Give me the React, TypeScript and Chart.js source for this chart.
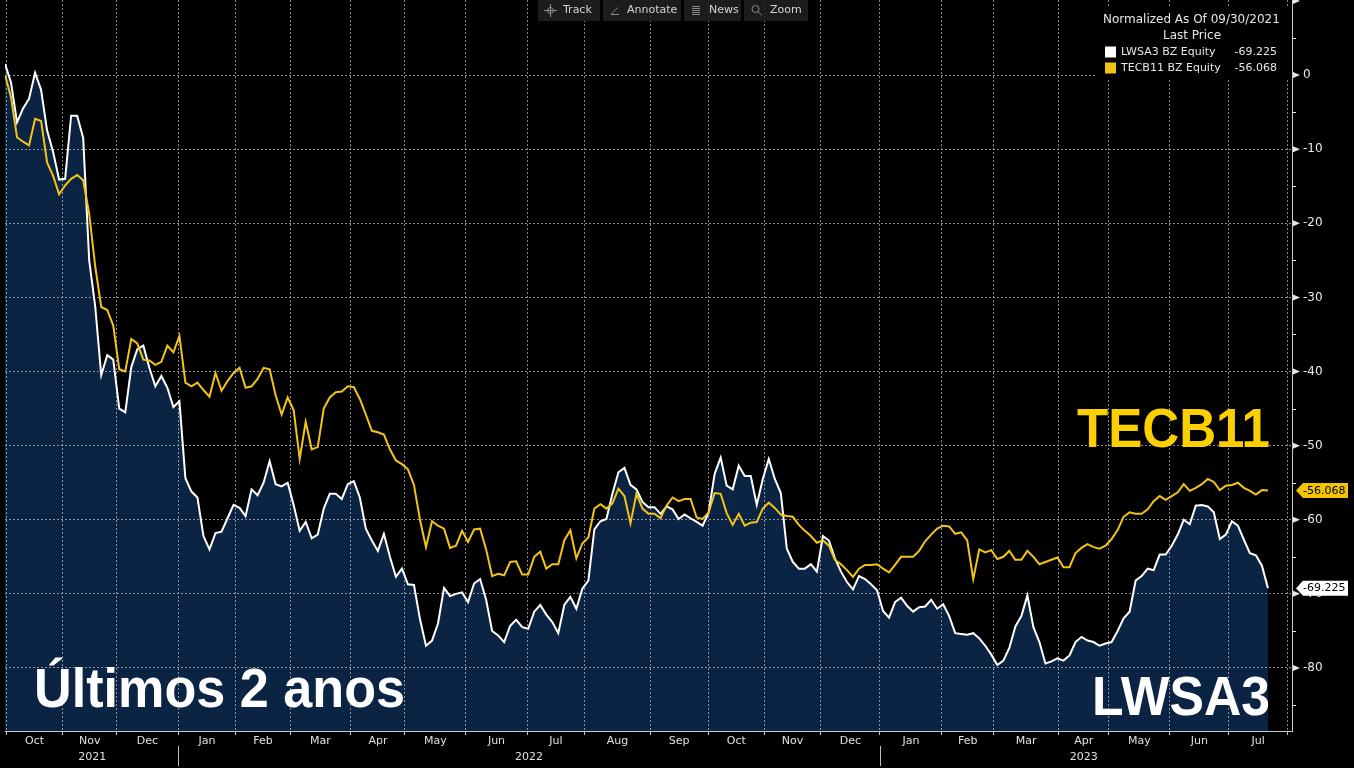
import React, { useEffect, useRef } from 'react';
import { Chart, registerables } from 'chart.js';

Chart.register(...registerables);

// One sample ≈ two B3 sessions, from 30 Sep 2021 to Jul 2023 (normalized, % change)
const lwsa3: number[] = [
  1.5, -1.0, -6.4, -4.5, -3.2, 0.3, -2.0, -7.5, -10.4, -14.1,
  -14, -5.5, -5.5, -8.5, -25, -31.2, -40.5, -37.8, -38.4, -45,
  -45.5, -39.4, -37, -36.5, -39.5, -42, -40.6, -42.2, -44.8, -44,
  -54.4, -56.2, -57, -62.2, -64, -61.8, -61.6, -59.8, -58, -58.4,
  -59.5, -55.9, -56.7, -55, -52.1, -55.2, -55.5, -55, -58, -61.5,
  -60.3, -62.5, -62, -58.5, -56.5, -56.5, -57.2, -55.2, -54.8, -57,
  -61.2, -62.8, -64.2, -61.9, -65, -67.7, -66.6, -68.7, -68.8, -73.4,
  -77, -76.3, -74, -69.2, -70.3, -70, -69.8, -71.1, -68.6, -68,
  -70.8, -75, -75.6, -76.5, -74.3, -73.5, -74.5, -74.7, -72.4, -71.5,
  -72.8, -73.8, -75.3, -71.5, -70.4, -72, -69.3, -68.2, -61.3, -60.2,
  -59.9, -56.5, -53.6, -53, -55.3, -55.9, -57.6, -58.3, -58.3, -59.2,
  -58.2, -58.6, -59.9, -59.3, -59.8, -60.3, -60.8, -59, -53.8, -51.6,
  -55.4, -55.9, -52.7, -54.1, -54.1, -58, -54.5, -51.8, -54.5, -56.4,
  -63.9, -65.7, -66.6, -66.6, -66, -67, -62.2, -62.8, -65.2, -67,
  -68.4, -69.4, -67.6, -68, -68.7, -69.5, -72.3, -73.2, -71.1, -70.5,
  -71.6, -72.4, -71.8, -71.7, -70.8, -72, -71.4, -73, -75.3, -75.4,
  -75.5, -75.3, -76, -77, -78.2, -79.6, -79, -77.3, -74.4, -73,
  -70.2, -74.5, -76.5, -79.4, -79.1, -78.7, -79, -78.3, -76.5, -75.8,
  -76.3, -76.5, -77, -76.7, -76.5, -75, -73.3, -72.4, -68.2, -67.6,
  -66.6, -66.8, -64.7, -64.7, -63.5, -62, -60, -60.6, -58.1, -58,
  -58.2, -59, -62.6, -62, -60.2, -60.8, -62.7, -64.5, -64.8, -66.2,
  -69.225,
];

const tecb11: number[] = [
  0, -3, -8.4, -9, -9.5, -5.9, -6.2, -11.8, -13.6, -16.1,
  -14.9, -14, -13.5, -14.2, -18.7, -25.8, -31.3, -31.7, -33.8, -39.7,
  -40, -35.6, -36.2, -38.4, -38.5, -39.1, -38.7, -36.5, -37.4, -35.2,
  -41.5, -42, -41.5, -42.5, -43.4, -40.2, -42.6, -41.3, -40.2, -39.5,
  -42.2, -42, -41, -39.5, -39.7, -43.2, -45.8, -43.5, -45.2, -51.8,
  -46.8, -50.5, -50.2, -45, -43.5, -42.8, -42.7, -42, -42.1, -43.7,
  -45.8, -48, -48.2, -48.5, -50.5, -52, -52.5, -53.2, -55.3, -60,
  -63.7, -60.2, -60.8, -61.2, -63.8, -63.5, -61.5, -63, -61.3, -61.2,
  -64, -67.6, -67.3, -67.5, -65.7, -65.6, -67.4, -67.4, -65, -64.3,
  -66.6, -66, -66, -62.8, -61.4, -65.2, -63.2, -62.4, -58.5, -57.9,
  -58.5, -57.8, -55.8, -56.8, -60.5, -56.5, -58.5, -59.2, -59.2, -59.8,
  -58.1, -57, -57.5, -57.2, -57.2, -59.7, -59.9, -59, -56.4, -56.5,
  -59.1, -60.7, -59.2, -60.8, -60.4, -60.3, -58.5, -57.7, -58.4, -59.3,
  -59.5, -59.6, -60.7, -61.5, -62.2, -63.1, -62.8, -63.5, -65.4, -66,
  -66.8, -67.7, -66.6, -66.1, -66.1, -66, -66.6, -67.1, -66.1, -65,
  -65, -65, -64.2, -62.9, -62, -61.2, -60.8, -60.9, -61.9, -61.7,
  -62.8, -68, -64, -64.4, -64.1, -65.3, -65, -64.2, -65.4, -65.4,
  -64.2, -65, -66, -65.7, -65.4, -65.1, -66.4, -66.4, -64.5, -63.8,
  -63.3, -63.7, -63.9, -63.5, -62.6, -61.4, -59.6, -59, -59.2, -59.2,
  -58.6, -57.5, -56.8, -57.3, -56.8, -56.3, -55.2, -56.1, -55.7, -55.2,
  -54.5, -54.9, -56, -55.4, -55.3, -55, -55.7, -56.1, -56.6, -56,
  -56.068,
];

// month boundaries in sample units (1st trading day of each month)
const monthStarts: number[] = [
  0.28, 9.56, 18.62, 28.77, 38.41, 47.39, 57.53, 66.51, 76.65, 86.8, 96.44, 107.25,
  116.9, 126.29, 135.62, 145.49, 155.8, 164.37, 175.2, 183.57, 193.7, 203.5, 213.27,
];
const monthLabels: string[] = [
  'Oct', 'Nov', 'Dec', 'Jan', 'Feb', 'Mar', 'Apr', 'May', 'Jun', 'Jul', 'Aug', 'Sep',
  'Oct', 'Nov', 'Dec', 'Jan', 'Feb', 'Mar', 'Apr', 'May', 'Jun', 'Jul',
];
const yearStarts: number[] = [0.28, 28.77, 145.49, 213.27];
const yearLabels: string[] = ['2021', '2022', '2023'];

const yTicks: number[] = [0, -10, -20, -30, -40, -50, -60, -70, -80];
const yMarkers: number[] = [10, 0, -10, -20, -30, -40, -50, -60, -70, -80];
const yMinorTicks: number[] = [5, -5, -15, -25, -35, -45, -55, -65, -75, -85];

const seriesNames: string[] = ['LWSA3 BZ Equity', 'TECB11 BZ Equity'];
const toolbarLabels: string[] = ['Track', 'Annotate', 'News', 'Zoom'];

const X_MAX = 214;
const Y_MIN = -88.5;
const Y_MAX = 10.12;

const FONT = '"DejaVu Sans", "Noto Sans", sans-serif';
const BIG = '"Liberation Sans", Arial, sans-serif';
const YELLOW = '#f2c417';
const YELLOW_TEXT = '#fcd000';
const NAVY = '#0b2444';
const GRID = 'rgba(185,185,185,0.75)';
const AXIS = '#c8c8c8';

function fitText(ctx: any, text: string, left: number, right: number, baseline: number, size: number, color: string) {
  ctx.save();
  ctx.font = `bold ${size}px ${BIG}`;
  const w = ctx.measureText(text).width;
  ctx.translate(left, baseline);
  ctx.scale((right - left) / w, 1);
  ctx.fillStyle = color;
  ctx.textAlign = 'left';
  ctx.textBaseline = 'alphabetic';
  ctx.fillText(text, 0, 0);
  ctx.restore();
}

const overlay = {
  id: 'overlay',
  afterDraw(chart: any) {
    const { ctx, chartArea: a } = chart;
    const xs = chart.scales.x;
    const ys = chart.scales.y;
    ctx.save();

    // y-axis markers
    ctx.fillStyle = '#e8e8e8';
    for (const v of yMarkers) {
      const py = ys.getPixelForValue(v);
      ctx.beginPath();
      ctx.moveTo(a.right + 1, py - 3);
      ctx.lineTo(a.right + 8, py);
      ctx.lineTo(a.right + 1, py + 3);
      ctx.closePath();
      ctx.fill();
    }
    ctx.strokeStyle = '#e8e8e8';
    ctx.lineWidth = 1;
    for (const v of yMinorTicks) {
      const py = Math.round(ys.getPixelForValue(v)) + 0.5;
      ctx.beginPath();
      ctx.moveTo(a.right, py);
      ctx.lineTo(a.right + 4, py);
      ctx.stroke();
    }

    // x-axis month / year labels
    ctx.fillStyle = '#e0e0e0';
    ctx.font = `11px ${FONT}`;
    ctx.textAlign = 'center';
    ctx.textBaseline = 'middle';
    monthLabels.forEach((m, i) => {
      const cx = (xs.getPixelForValue(monthStarts[i]) + xs.getPixelForValue(monthStarts[i + 1])) / 2;
      ctx.fillText(m, cx, a.bottom + 10);
    });
    yearLabels.forEach((y, i) => {
      const cx = (xs.getPixelForValue(yearStarts[i]) + xs.getPixelForValue(yearStarts[i + 1])) / 2;
      ctx.fillText(y, cx, a.bottom + 26);
    });
    ctx.strokeStyle = '#bdbdbd';
    for (let i = 1; i < yearStarts.length - 1; i++) {
      const px = Math.round(xs.getPixelForValue(yearStarts[i])) + 0.5;
      ctx.beginPath();
      ctx.moveTo(px, a.bottom + 15);
      ctx.lineTo(px, a.bottom + 35);
      ctx.stroke();
    }

    // last-value callouts
    const callouts = [
      { v: tecb11[tecb11.length - 1], bg: '#f5c400' },
      { v: lwsa3[lwsa3.length - 1], bg: '#ffffff' },
    ];
    ctx.font = `11px ${FONT}`;
    ctx.textAlign = 'left';
    for (const c of callouts) {
      const py = ys.getPixelForValue(c.v);
      const x0 = a.right + 4;
      ctx.fillStyle = c.bg;
      ctx.beginPath();
      ctx.moveTo(x0, py);
      ctx.lineTo(x0 + 7, py - 7.5);
      ctx.lineTo(x0 + 52, py - 7.5);
      ctx.lineTo(x0 + 52, py + 7.5);
      ctx.lineTo(x0 + 7, py + 7.5);
      ctx.closePath();
      ctx.fill();
      ctx.fillStyle = '#000';
      ctx.fillText(c.v.toFixed(3), x0 + 7, py + 0.5);
    }

    // big annotations
    fitText(ctx, 'TECB11', 1077, 1270, 447, 56, YELLOW_TEXT);
    fitText(ctx, 'LWSA3', 1092, 1270, 715, 56, '#ffffff');
    fitText(ctx, 'Últimos 2 anos', 34, 405, 707, 56, '#ffffff');

    // toolbar
    const cells = [[538, 600], [603, 681], [684, 741], [744, 808]];
    const textX = [563, 627, 709, 770];
    ctx.globalAlpha = 0.9;
    ctx.fillStyle = '#1f1f1f';
    for (const [c0, c1] of cells) ctx.fillRect(c0, 0, c1 - c0, 21);
    ctx.globalAlpha = 1;
    ctx.fillStyle = '#d4d4d4';
    ctx.font = `11px ${FONT}`;
    ctx.textBaseline = 'middle';
    toolbarLabels.forEach((t, i) => ctx.fillText(t, textX[i], 10.5));
    ctx.strokeStyle = '#8a8a8a';
    ctx.lineWidth = 1;
    ctx.beginPath();
    ctx.arc(550.5, 10.5, 3, 0, Math.PI * 2);
    ctx.moveTo(544, 10.5); ctx.lineTo(557, 10.5);
    ctx.moveTo(550.5, 4); ctx.lineTo(550.5, 17);
    ctx.stroke();
    ctx.beginPath();
    ctx.moveTo(611, 14.5); ctx.lineTo(618, 7.5);
    ctx.moveTo(611, 14.5); ctx.lineTo(619, 14.5);
    ctx.stroke();
    ctx.beginPath();
    for (const yy of [6.5, 8.5, 10.5, 12.5, 14.5]) { ctx.moveTo(692, yy); ctx.lineTo(700, yy); }
    ctx.stroke();
    ctx.beginPath();
    ctx.arc(755.5, 9, 3.5, 0, Math.PI * 2);
    ctx.moveTo(758, 11.5); ctx.lineTo(762, 15.5);
    ctx.stroke();

    // legend box
    ctx.fillStyle = '#000';
    ctx.fillRect(1097, 7, a.right - 1097, 72);
    ctx.fillStyle = '#e6e6e6';
    ctx.font = `12px ${FONT}`;
    ctx.textAlign = 'left';
    ctx.fillText('Normalized As Of 09/30/2021', 1103, 19.5);
    ctx.textAlign = 'center';
    ctx.fillText('Last Price', 1192, 35.5);
    const legendColors = ['#ffffff', YELLOW];
    const legendVals = [lwsa3[lwsa3.length - 1], tecb11[tecb11.length - 1]];
    ctx.font = `11px ${FONT}`;
    seriesNames.forEach((n, i) => {
      const cy = 52 + i * 16;
      ctx.fillStyle = legendColors[i];
      ctx.fillRect(1105, cy - 5.5, 11, 11);
      ctx.fillStyle = '#e6e6e6';
      ctx.textAlign = 'left';
      ctx.fillText(n, 1121, cy + 0.5);
      ctx.textAlign = 'right';
      ctx.fillText(legendVals[i].toFixed(3), 1277, cy + 0.5);
    });

    ctx.restore();
  },
};

export default function App() {
  const ref = useRef<HTMLCanvasElement | null>(null);

  useEffect(() => {
    if (!ref.current) return;
    const chart = new Chart(ref.current, {
      type: 'line',
      data: {
        datasets: [
          {
            label: seriesNames[1],
            data: tecb11.map((y, i) => ({ x: i, y })),
            borderColor: YELLOW,
            borderWidth: 2,
            pointRadius: 0,
            tension: 0,
            fill: false,
            order: 0,
          },
          {
            label: seriesNames[0],
            data: lwsa3.map((y, i) => ({ x: i, y })),
            borderColor: '#ffffff',
            borderWidth: 2,
            pointRadius: 0,
            tension: 0,
            fill: 'start',
            backgroundColor: NAVY,
            order: 1,
          },
        ],
      } as any,
      options: {
        responsive: false,
        maintainAspectRatio: false,
        animation: false,
        devicePixelRatio: 1,
        layout: { padding: { left: 5, right: 0, top: 0, bottom: 0 } },
        plugins: {
          legend: { display: false },
          tooltip: { enabled: false },
          filler: { drawTime: 'beforeDraw' },
        },
        scales: {
          x: {
            type: 'linear',
            position: 'bottom',
            min: 0,
            max: X_MAX,
            afterBuildTicks: (s: any) => {
              s.ticks = monthStarts.map((v) => ({ value: v }));
            },
            afterFit: (s: any) => {
              s.height = 37;
              s.paddingLeft = 0;
              s.paddingRight = 0;
              s.paddingTop = 0;
              s.paddingBottom = 0;
            },
            ticks: { display: false, autoSkip: false },
            grid: {
              color: GRID,
              lineWidth: 1,
              drawTicks: true,
              tickLength: 4,
              tickColor: AXIS,
              tickWidth: 1,
            },
            border: { display: true, color: AXIS, width: 1, dash: [2, 2] },
          },
          y: {
            type: 'linear',
            position: 'right',
            min: Y_MIN,
            max: Y_MAX,
            afterBuildTicks: (s: any) => {
              s.ticks = yTicks.map((v) => ({ value: v }));
            },
            afterFit: (s: any) => {
              s.width = 62;
              s.paddingTop = 0;
              s.paddingBottom = 0;
              s.paddingLeft = 0;
              s.paddingRight = 0;
            },
            ticks: {
              autoSkip: false,
              color: '#e8e8e8',
              padding: 11,
              font: { family: FONT, size: 12 },
              callback: (v: any) => String(v),
            },
            grid: { color: GRID, lineWidth: 1, drawTicks: false },
            border: { display: true, color: AXIS, width: 1, dash: [2, 2] },
          },
        },
      } as any,
      plugins: [overlay],
    });
    return () => chart.destroy();
  }, []);

  return (
    <div style={{ position: 'fixed', left: 0, top: 0, width: 1354, height: 768, background: '#000' }}>
      <canvas ref={ref} width={1354} height={768} style={{ display: 'block' }} />
    </div>
  );
}
